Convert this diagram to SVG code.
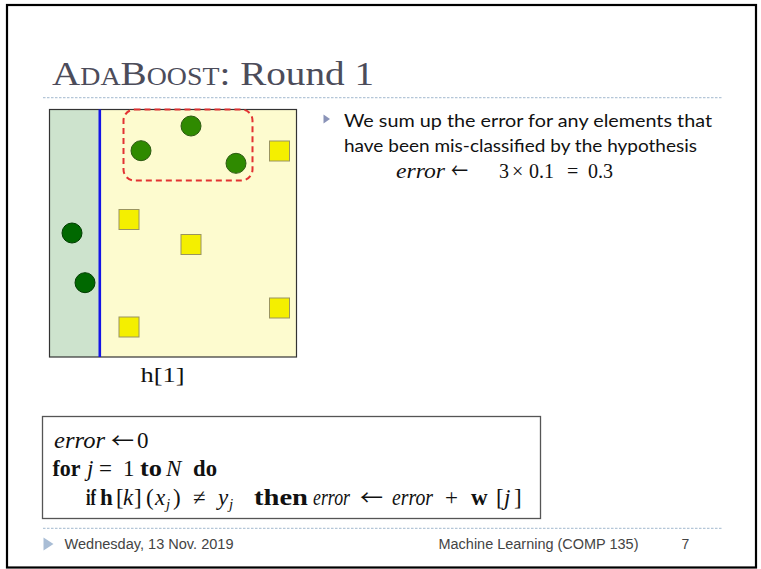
<svg xmlns="http://www.w3.org/2000/svg" width="761" height="569" viewBox="0 0 761 569">
<style>
.frame{fill:#fff;stroke:#000;stroke-width:2.2}
.dots{stroke:#b4c6d8;stroke-width:1.2;stroke-dasharray:2.5 1.5;fill:none}
.title{font-family:"Liberation Serif",serif;fill:#4c4c5a}
.body{font-family:"Lato","Open Sans",sans-serif;font-size:18px;fill:#111}
.m{font-family:"Liberation Serif",serif;font-size:20px;fill:#111}
.alg{font-family:"Liberation Serif",serif;font-size:23px;fill:#111}
.i{font-style:italic}
.b{font-weight:bold}
.ar{font-family:"Noto Sans CJK SC","DejaVu Sans",sans-serif;font-size:21px}
.foot{font-family:"Liberation Sans",Arial,sans-serif;font-size:14px;fill:#444}
.circA{fill:#2f8a00;stroke:#2d5a12;stroke-width:1}
.circB{fill:#006800;stroke:#003c00;stroke-width:1}
.sq{fill:#f4ef00;stroke:#9a9460;stroke-width:1}
</style>
<rect class="frame" x="7" y="5" width="749" height="562.5"/>
<g id="title">
<text class="title" x="52" y="85" font-size="34" textLength="322" lengthAdjust="spacingAndGlyphs">A<tspan font-size="24.2">DA</tspan>B<tspan font-size="24.2">OOST</tspan>: Round 1</text>
</g>
<line class="dots" x1="43" y1="97.7" x2="723" y2="97.7"/>
<g id="plot">
<rect x="49.5" y="109.5" width="50" height="247.5" fill="#cde3cd"/>
<rect x="99.5" y="109.5" width="197" height="247.5" fill="#fdfbcf"/>
<rect x="49.5" y="109.5" width="247" height="247.5" fill="none" stroke="#333" stroke-width="1.2"/>
<line x1="99.8" y1="109.5" x2="99.8" y2="357" stroke="#1414e6" stroke-width="2.6"/>
<rect x="123.5" y="109.5" width="129" height="71" rx="11" fill="none" stroke="#e23232" stroke-width="2" stroke-dasharray="6 4"/>
<circle class="circA" cx="191" cy="126" r="10"/>
<circle class="circA" cx="141" cy="150.7" r="10"/>
<circle class="circA" cx="236" cy="163.3" r="10"/>
<circle class="circB" cx="72" cy="233" r="10"/>
<circle class="circB" cx="85" cy="282.7" r="10"/>
<rect class="sq" x="269.5" y="141" width="20" height="20"/>
<rect class="sq" x="119" y="209.5" width="20" height="20"/>
<rect class="sq" x="181" y="234.5" width="20" height="20"/>
<rect class="sq" x="269.5" y="298" width="20" height="20"/>
<rect class="sq" x="119" y="317" width="20" height="20"/>
<text x="162.5" y="382" text-anchor="middle" font-family="Liberation Serif,serif" font-size="22" fill="#111" textLength="44" lengthAdjust="spacingAndGlyphs">h[1]</text>
</g>
<g id="bullet">
<polygon points="323.5,114.5 330,119 323.5,123.5" fill="#8a93b8"/>
<text class="body" x="344" y="127" textLength="368" lengthAdjust="spacingAndGlyphs">We sum up the error for any elements that</text>
<text class="body" x="344" y="152" textLength="353" lengthAdjust="spacingAndGlyphs">have been mis-classified by the hypothesis</text>
<text class="m" y="177.5"><tspan class="i" x="396" textLength="49" lengthAdjust="spacingAndGlyphs">error</tspan><tspan class="ar" x="451" font-size="17" textLength="17" lengthAdjust="spacingAndGlyphs">←</tspan><tspan x="499">3</tspan><tspan x="512">×</tspan><tspan x="529">0.1</tspan><tspan x="567">=</tspan><tspan x="588">0.3</tspan></text>
</g>
<g id="algorithm">
<rect x="42.5" y="416.5" width="498" height="102" fill="#fff" stroke="#555" stroke-width="1.3"/>
<text class="alg" y="448"><tspan class="i" x="54" textLength="51" lengthAdjust="spacingAndGlyphs">error</tspan><tspan class="ar" x="111" textLength="23" lengthAdjust="spacingAndGlyphs">←</tspan><tspan x="137">0</tspan></text>
<text class="alg" y="476"><tspan class="b" x="52.5" textLength="28" lengthAdjust="spacingAndGlyphs">for</tspan><tspan class="i" x="87">j</tspan><tspan x="99">=</tspan><tspan x="123">1</tspan><tspan class="b" x="140" textLength="22" lengthAdjust="spacingAndGlyphs">to</tspan><tspan class="i" x="166">N</tspan><tspan class="b" x="193" textLength="24" lengthAdjust="spacingAndGlyphs">do</tspan></text>
<text class="alg" y="505"><tspan class="b" x="86" textLength="10" lengthAdjust="spacingAndGlyphs">if</tspan><tspan class="b" x="100">h</tspan><tspan x="116">[</tspan><tspan class="i" x="123">k</tspan><tspan x="134">]</tspan><tspan x="146">(</tspan><tspan class="i" x="155">x</tspan><tspan class="i" font-size="15" x="166" dy="4">j</tspan><tspan x="173" dy="-4">)</tspan><tspan x="193">≠</tspan><tspan class="i" x="218">y</tspan><tspan class="i" font-size="15" x="229" dy="4">j</tspan><tspan class="b" x="254" dy="-4" textLength="54" lengthAdjust="spacingAndGlyphs">then</tspan><tspan class="i" x="313" textLength="37" lengthAdjust="spacingAndGlyphs">error</tspan><tspan class="ar" x="360" textLength="23" lengthAdjust="spacingAndGlyphs">←</tspan><tspan class="i" x="392" textLength="41" lengthAdjust="spacingAndGlyphs">error</tspan><tspan x="445">+</tspan><tspan class="b" x="471">w</tspan><tspan x="496">[</tspan><tspan class="i" x="504">j</tspan><tspan x="514">]</tspan></text>
</g>
<line class="dots" x1="43" y1="528.3" x2="723" y2="528.3"/>
<g id="footer">
<polygon points="43.5,537.5 53.5,544 43.5,550.5" fill="#a9bdd5"/>
<text class="foot" x="64.5" y="548.5" textLength="169" lengthAdjust="spacingAndGlyphs">Wednesday, 13 Nov. 2019</text>
<text class="foot" x="438.5" y="549" textLength="200" lengthAdjust="spacingAndGlyphs">Machine Learning (COMP 135)</text>
<text class="foot" x="681.5" y="549">7</text>
</g>
</svg>
